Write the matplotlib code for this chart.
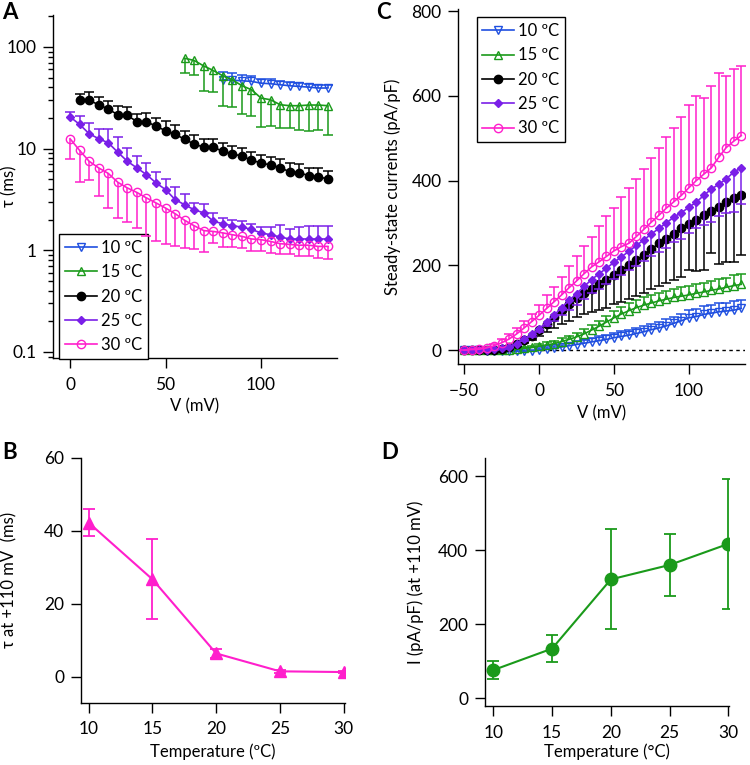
import numpy as np
import matplotlib
matplotlib.use('Agg')
import matplotlib.pyplot as plt
from matplotlib.lines import Line2D

plt.rcParams['font.family'] = ['Lato', 'DejaVu Sans']
plt.rcParams['axes.linewidth'] = 1.0
plt.rcParams['xtick.direction'] = 'out'
plt.rcParams['ytick.direction'] = 'out'

# ════════════════ data ════════════════
TEMPS = ['10 ºC', '15 ºC', '20 ºC', '25 ºC', '30 ºC']
COLORS = ['#1f4fe0', '#1a9a1a', '#000000', '#7a1fe8', '#ff1fcc']

# A: tau vs V (log), V in mV
V_A = [0, 5, 10, 15, 20, 25, 30, 35, 40, 45, 50, 55, 60, 65,
       70, 75, 80, 85, 90, 95, 100, 105, 110, 115, 120, 125, 130, 135]
tau_10 = [47.5, 47.0, 46.4, 45.8, 44.0, 43.4, 42.4, 41.5, 40.8, 40.2, 39.4, 39.4]
tau_10_err = [8.5, 8, 6, 5.5, 4.5, 4.5, 4, 3.5, 3.5, 3, 3, 2.5]
tau_15 = [77.4, 73.5, 65, 58.6, 52, 47.5, 41.5, 37.9, 31.4, 30.2, 27, 26.4,
          26.4, 26.8, 26.8, 26.4]
tau_15_err = [22, 20, 28, 23, 26, 22, 19.5, 17, 15, 13.6, 11, 10.4, 11.2, 12, 11.6, 12.7]
tau_20 = [30.2, 29.8, 27.0, 24.5, 21.5, 21.2, 18.4, 18.4, 16.6, 15.0, 13.9, 12.3,
          11.1, 10.3, 10.3, 9.4, 8.9, 8.4, 7.7, 7.2, 6.9, 6.5, 5.9, 5.8, 5.4, 5.3, 5.0]
tau_20_err = [4.5, 6, 5.5, 5, 4.5, 4.5, 3.5, 4, 3.5, 3.5, 3, 2.5, 2.5, 2.2, 2, 2,
              1.8, 1.7, 1.6, 1.5, 1.4, 1.4, 1.3, 1.2, 1.1, 1.1, 1.0]
tau_25 = [20.5, 17.3, 14.0, 12.5, 11.4, 9.2, 7.5, 6.45, 5.55, 4.6, 3.95, 3.15, 2.8, 2.5,
          2.33, 1.93, 1.82, 1.74, 1.69, 1.60, 1.48, 1.42, 1.35, 1.29, 1.29, 1.29, 1.29, 1.29]
tau_25_err = [2.3, 3.5, 3.9, 2.9, 4.0, 3.8, 2.6, 2.0, 1.7, 1.3, 1.1, 1.0, 0.8, 0.4,
              0.5, 0.37, 0.25, 0.26, 0.24, 0.22, 0.21, 0.27, 0.43, 0.31, 0.40, 0.45, 0.45, 0.45]
tau_30 = [12.5, 9.6, 7.5, 6.45, 5.7, 4.66, 4.1, 3.7, 3.27, 2.92, 2.6, 2.29, 1.97, 1.74,
          1.56, 1.53, 1.48, 1.42, 1.37, 1.29, 1.27, 1.22, 1.16, 1.14, 1.12, 1.12, 1.09, 1.09]
tau_30_err = [4.6, 4.9, 2.6, 3.05, 3.1, 2.6, 2.2, 2.05, 1.9, 1.7, 1.44, 1.18, 0.92, 0.72,
              0.59, 0.35, 0.4, 0.34, 0.32, 0.3, 0.28, 0.29, 0.24, 0.23, 0.25, 0.25, 0.26, 0.27]

# C: steady-state currents (pA/pF) vs V
V_C = [-50, -45, -40, -35, -30, -25, -20, -15, -10, -5, 0, 5, 10, 15, 20, 25, 30, 35, 40,
       45, 50, 55, 60, 65, 70, 75, 80, 85, 90, 95, 100, 105, 110, 115, 120, 125, 130, 135]
I_10 = [0, -1, -1, -2, -2, -3, -3, -3, -3, -2, 0, 2, 4, 7, 10, 13, 16, 19, 22, 25,
        29, 32, 35, 39, 43, 48, 52, 57, 63, 69, 76, 79, 84, 87, 90, 92, 94, 98]
I_10_err = [1, 1, 1, 1, 1, 2, 2, 2, 3, 3, 4, 5, 5, 6, 7, 8, 8, 9, 10, 10,
            11, 12, 12, 13, 14, 14, 15, 16, 16, 17, 18, 18, 19, 19, 20, 20, 21, 21]
I_15 = [0, 0, 0, 0, 0, 0, 1, 2, 4, 6, 9, 12, 15, 20, 25, 31, 38, 47, 56, 66,
        76, 85, 93, 100, 106, 111, 116, 120, 124, 127, 130, 134, 137, 141, 144, 148, 152, 155]
I_15_err = [1, 1, 1, 1, 1, 1, 1, 2, 3, 4, 5, 6, 7, 8, 9, 10, 11, 12, 13, 14,
            15, 16, 17, 18, 18, 19, 19, 20, 20, 21, 21, 22, 22, 23, 23, 23, 24, 24]
I_20 = [0, 0, 0, 0, 1, 3, 7, 14, 24, 34, 47, 62, 78, 94, 108, 122, 135, 145, 155, 165,
        178, 188, 200, 212, 225, 238, 252, 263, 275, 288, 298, 306, 318, 328, 337, 349, 358, 367]
I_20_err = [0.5, 0.5, 0.5, 0.5, 1, 1, 2, 4, 7, 10, 15, 20, 27, 33, 40, 45, 50, 55, 60, 65,
            70, 75, 80, 85, 90, 95, 100, 105, 110, 115, 110, 120, 130, 100, 133, 141, 150, 142]
I_25 = [0, 0, 0, 1, 2, 4, 8, 15, 25, 37, 50, 66, 82, 100, 117, 133, 150, 166, 180, 193,
        207, 220, 233, 247, 260, 274, 287, 300, 314, 324, 337, 349, 365, 380, 391, 404, 420, 430]
I_25_err = [0.5, 0.5, 0.5, 1, 1, 1, 2, 3, 4, 6, 8, 10, 14, 18, 22, 26, 30, 32, 35, 38,
            40, 43, 45, 48, 50, 52, 55, 58, 60, 62, 60, 60, 70, 78, 75, 80, 95, 85]
I_30 = [0, 1, 2, 5, 10, 17, 26, 38, 52, 67, 82, 98, 114, 130, 147, 163, 180, 196, 208, 221,
        234, 244, 252, 268, 285, 302, 318, 335, 350, 365, 383, 400, 415, 430, 455, 478, 493, 506]
I_30_err = [0.5, 1, 2, 3, 5, 8, 12, 14, 16, 19, 24, 32, 35, 42, 52, 58, 65, 70, 84, 95,
            101, 117, 130, 136, 142, 151, 160, 167, 175, 184, 196, 200, 179, 193, 200, 169, 170, 165]

# B / D: values at +110 mV vs temperature
temperature = [10, 15, 20, 25, 30]
tau_110 = [42.2, 26.7, 6.4, 1.5, 1.3]
tau_110_err = [3.7, 10.9, 1.2, 0.4, 0.3]
I_110 = [76, 134, 321, 360, 417]
I_110_err = [24, 37, 135, 84, 175]

MARKERS = dict(
    v=dict(marker='v', mfc='none'),
    t=dict(marker='^', mfc='none'),
    o=dict(marker='o'),
    d=dict(marker='D'),
    c=dict(marker='o', mfc='none'),
)
STYLE_KEYS = ['v', 't', 'o', 'd', 'c']
MS = {'v': 5.5, 't': 5.5, 'o': 6, 'd': 4.5, 'c': 6}


def one_sided(ax, x, y, err, up, color, z):
    """单侧误差棒（只画上或下）。"""
    x = np.asarray(x, float)
    y = np.asarray(y, float)
    err = np.asarray(err, float)
    tip = y + err if up else y - err
    ax.vlines(x, y, tip, color=color, lw=1.1, zorder=z)
    ax.plot(x, tip, ls='none', marker='_', ms=7, mew=1.1, color=color, zorder=z)


def series(ax, x, y, err, up, idx, z):
    key = STYLE_KEYS[idx]
    col = COLORS[idx]
    one_sided(ax, x, y, err, up, col, z)
    ax.plot(x, y, color=col, lw=1.2, ms=MS[key], mec=col, mew=1.0,
            zorder=z + 0.5, **MARKERS[key])


def style_axes(ax):
    for s in ('top', 'right'):
        ax.spines[s].set_visible(False)
    ax.tick_params(which='major', length=7, width=1, labelsize=12.5)
    ax.tick_params(axis='x', which='major', pad=6.5)
    ax.tick_params(axis='y', which='major', pad=5)
    ax.tick_params(which='minor', length=3.5, width=1)


def legend_handles():
    hs = []
    for i, k in enumerate(STYLE_KEYS):
        hs.append(Line2D([], [], color=COLORS[i], lw=1.2, ms=MS[k], mec=COLORS[i],
                         **MARKERS[k]))
    return hs


def add_legend(ax, loc, anchor):
    leg = ax.legend(legend_handles(), TEMPS, loc=loc, bbox_to_anchor=anchor,
                    borderaxespad=0, fancybox=False, edgecolor='black', fontsize=12,
                    handlelength=1.9, handletextpad=0.25, labelspacing=0.5,
                    borderpad=0.35, framealpha=1)
    leg.get_frame().set_linewidth(1.0)
    return leg


fig = plt.figure(figsize=(7.5, 7.65), dpi=100)

# ════════════════ A ════════════════
axA = fig.add_axes([0.0707, 0.532, 0.3787, 0.4484])
series(axA, V_A[16:], tau_10, tau_10_err, True, 0, 2)
series(axA, V_A[12:], tau_15, tau_15_err, False, 1, 3)
series(axA, V_A[1:], tau_20, tau_20_err, True, 2, 4)
series(axA, V_A, tau_25, tau_25_err, True, 3, 5)
series(axA, V_A, tau_30, tau_30_err, False, 4, 6)
axA.set_yscale('log')
axA.set_xlim(-8.9, 139.8)
axA.set_ylim(0.087, 206)
axA.set_yticks([0.1, 1, 10, 100])
axA.set_yticklabels(['0.1', '1', '10', '100'])
axA.set_xticks([0, 50, 100])
style_axes(axA)
axA.set_xlabel('V (mV)', fontsize=12, labelpad=4)
axA.set_ylabel('τ (ms)', fontsize=12)
axA.yaxis.set_label_coords(-0.125, 0.5)
add_legend(axA, 'lower left', (0.022, -0.003))

# ════════════════ C ════════════════
axC = fig.add_axes([0.611, 0.5242, 0.3823, 0.464])
axC.axhline(0, color='black', ls=(0, (2.5, 2.5)), lw=1.0, zorder=1)
series(axC, V_C, I_10, I_10_err, True, 0, 2)
series(axC, V_C, I_15, I_15_err, True, 1, 3)
series(axC, V_C, I_20, I_20_err, False, 2, 4)
series(axC, V_C, I_25, I_25_err, False, 3, 5)
series(axC, V_C, I_30, I_30_err, True, 4, 6)
axC.set_xlim(-54, 137.5)
axC.set_ylim(-33, 805)
axC.set_xticks([-50, 0, 50, 100])
axC.set_yticks([0, 200, 400, 600, 800])
style_axes(axC)
axC.set_xlabel('V (mV)', fontsize=12, labelpad=5)
axC.set_ylabel('Steady-state currents (pA/pF)', fontsize=12)
axC.yaxis.set_label_coords(-0.2, 0.5)
add_legend(axC, 'upper left', (0.064, 0.977))

# ════════════════ B ════════════════
axB = fig.add_axes([0.108, 0.0814, 0.352, 0.3203])
axB.errorbar(temperature, tau_110, yerr=tau_110_err, color='#ff1fcc', lw=1.5,
             marker='^', ms=9, capsize=4, elinewidth=1.3, capthick=1.3)
axB.set_xlim(9.4, 30.1)
axB.set_ylim(-7.1, 60)
axB.set_xticks([10, 15, 20, 25, 30])
axB.set_yticks([0, 20, 40, 60])
style_axes(axB)
axB.set_xlabel('Temperature (ºC)', fontsize=12, labelpad=4)
axB.set_ylabel('τ at +110 mV  (ms)', fontsize=12)
axB.yaxis.set_label_coords(-0.24, 0.5)

# ════════════════ D ════════════════
axD = fig.add_axes([0.6467, 0.0771, 0.3253, 0.3238])
axD.errorbar(temperature, I_110, yerr=I_110_err, color='#1a9a1a', lw=1.5,
             marker='o', ms=9, capsize=4, elinewidth=1.3, capthick=1.3)
axD.set_xlim(9.3, 30.05)
axD.set_ylim(-21, 648)
axD.set_xticks([10, 15, 20, 25, 30])
axD.set_yticks([0, 200, 400, 600])
style_axes(axD)
axD.set_xlabel('Temperature (°C)', fontsize=12, labelpad=2)
axD.set_ylabel('I (pA/pF) (at +110 mV)', fontsize=12)
axD.yaxis.set_label_coords(-0.25, 0.5)

# 面板字母
for lab, x, y in [('A', 0.003, 0.997), ('C', 0.502, 0.997), ('B', 0.003, 0.422), ('D', 0.508, 0.422)]:
    fig.text(x, y, lab, fontsize=16, fontweight='bold', va='top', ha='left')

fig.savefig('out.png', dpi=100)
